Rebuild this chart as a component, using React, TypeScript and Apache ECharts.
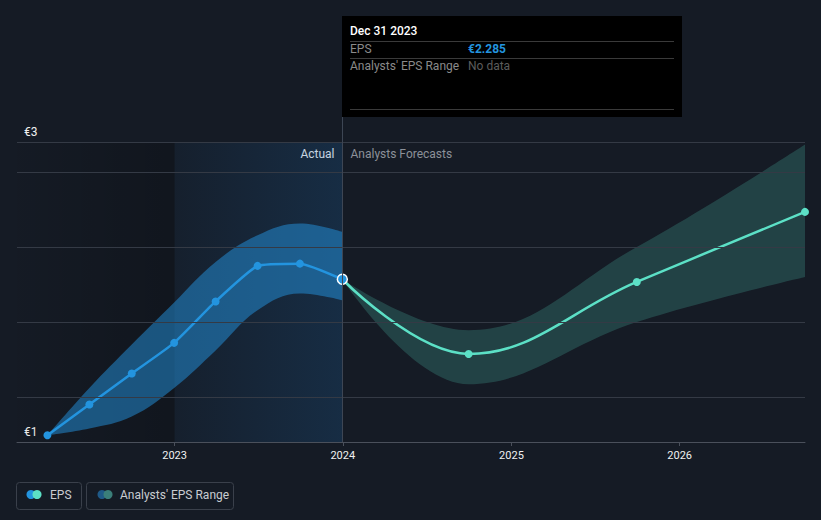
import React, { useEffect, useRef } from "react";
import * as echarts from "echarts";

// ---- data ----
const actualDates = ["2022-03-31", "2022-06-30", "2022-09-30", "2022-12-31", "2023-03-31", "2023-06-30", "2023-09-30", "2023-12-31"];
const actualEps = [1.245, 1.45, 1.657, 1.861, 2.137, 2.374, 2.389, 2.285];
const actualUpper = [1.245, 1.56, 1.85, 2.13, 2.4, 2.578, 2.656, 2.6];
const actualLower = [1.245, 1.29, 1.37, 1.56, 1.81, 2.078, 2.19, 2.145];

const forecastDates = ["2023-12-31", "2024-09-30", "2025-09-30", "2026-09-30"];
const forecastEps = [2.285, 1.787, 2.267, 2.734];
const forecastUpper = [2.285, 1.945, 2.5, 3.183];
const forecastLower = [2.285, 1.585, 2.0, 2.3];

const gridValues = [1.5, 2, 2.5, 3, 3.2];
const axisMin = "2022-01-24";
const axisMax = "2026-09-30";
const pastYearStart = "2023-01-01";
const currentDate = "2023-12-31";

const tooltipTitle = "Dec 31 2023";
const tooltipEps = "€2.285";

const BG = "#151b25";
const BLUE = "#2394df";
const TEAL = "#5ce0c6";

const ts = (s: string) => {
  const [y, m, d] = s.split("-").map(Number);
  return Date.UTC(y, m - 1, d);
};

const pairs = (dates: string[], vals: number[]) => dates.map((d, i) => [ts(d), vals[i]]);

export default function App() {
  const ref = useRef<HTMLDivElement>(null);
  useEffect(() => {
    if (!ref.current) return;
    const chart = echarts.init(ref.current, null, { renderer: "svg" });
    const font = "Roboto, 'Noto Sans', sans-serif";

    const option: any = {
      animation: false,
      useUTC: true,
      backgroundColor: BG,
      textStyle: { fontFamily: font },
      grid: { left: 17, right: 16, top: 142, bottom: 78, containLabel: false },
      xAxis: {
        type: "time",
        min: ts(axisMin),
        max: ts(axisMax),
        minInterval: 365 * 24 * 3600 * 1000,
        splitNumber: 4,
        axisLine: { show: true, lineStyle: { color: "#4a505b", width: 1 } },
        axisTick: { show: true, length: 4, lineStyle: { color: "#4a505b" } },
        axisLabel: {
          color: "#f0f0f0",
          fontSize: 11,
          margin: 8,
          fontFamily: font,
          formatter: (v: number) => String(new Date(v).getUTCFullYear()),
        },
        splitLine: { show: false },
      },
      yAxis: {
        type: "value",
        min: 1.2,
        max: 3.2,
        interval: 2,
        axisLine: { show: false },
        axisTick: { show: false },
        splitLine: { show: false },
        axisLabel: {
          inside: true,
          margin: 7,
          color: "#f0f0f0",
          fontSize: 12,
          fontFamily: font,
          verticalAlign: "bottom",
          padding: [0, 0, 4, 0],
          formatter: (v: number) => "€" + Math.round(v),
        },
      },
      series: [
        {
          type: "line",
          name: "bg",
          data: [],
          silent: true,
          markArea: {
            silent: true,
            data: [
              [
                {
                  xAxis: ts(axisMin),
                  itemStyle: {
                    color: {
                      type: "linear", x: 0, y: 0, x2: 1, y2: 0,
                      colorStops: [
                        { offset: 0, color: "rgba(0,0,0,0.02)" },
                        { offset: 1, color: "rgba(0,0,0,0.2)" },
                      ],
                    },
                  },
                },
                { xAxis: ts(pastYearStart) },
              ],
              [
                {
                  xAxis: ts(pastYearStart),
                  itemStyle: {
                    color: {
                      type: "linear", x: 0, y: 0, x2: 1, y2: 0,
                      colorStops: [
                        { offset: 0, color: "rgba(30,120,200,0.05)" },
                        { offset: 1, color: "rgba(30,120,200,0.19)" },
                      ],
                    },
                  },
                },
                { xAxis: ts(currentDate) },
              ],
            ],
          },
          markLine: {
            silent: true,
            symbol: "none",
            label: { show: false },
            lineStyle: { color: "#343a45", width: 1, type: "solid" },
            data: gridValues.map((v) => ({ yAxis: v })),
          },
        },
        {
          type: "line",
          name: "actualLower",
          stack: "actualBand",
          smooth: 0.4,
          symbol: "none",
          silent: true,
          lineStyle: { opacity: 0 },
          data: pairs(actualDates, actualLower),
        },
        {
          type: "line",
          name: "actualBand",
          stack: "actualBand",
          smooth: 0.4,
          symbol: "none",
          silent: true,
          lineStyle: { opacity: 0 },
          areaStyle: { color: "rgba(35,148,223,0.5)", opacity: 1 },
          data: pairs(actualDates, actualUpper.map((u, i) => u - actualLower[i])),
        },
        {
          type: "line",
          name: "forecastLower",
          stack: "forecastBand",
          smooth: 0.4,
          symbol: "none",
          silent: true,
          lineStyle: { opacity: 0 },
          data: pairs(forecastDates, forecastLower),
        },
        {
          type: "line",
          name: "forecastBand",
          stack: "forecastBand",
          smooth: 0.4,
          symbol: "none",
          silent: true,
          lineStyle: { opacity: 0 },
          areaStyle: { color: "rgba(92,224,198,0.2)", opacity: 1 },
          data: pairs(forecastDates, forecastUpper.map((u, i) => u - forecastLower[i])),
        },
        {
          type: "line",
          name: "EPS forecast",
          smooth: 0.4,
          symbol: "circle",
          symbolSize: 8,
          lineStyle: { color: TEAL, width: 2.5 },
          itemStyle: { color: TEAL },
          data: pairs(forecastDates, forecastEps).map((p, i) =>
            i === 0 ? { value: p, symbol: "none" } : { value: p }
          ),
        },
        {
          type: "line",
          name: "EPS",
          smooth: 0.15,
          symbol: "circle",
          symbolSize: 8,
          lineStyle: { color: BLUE, width: 2.5 },
          itemStyle: { color: BLUE },
          data: pairs(actualDates, actualEps).map((p, i) =>
            i === actualDates.length - 1
              ? { value: p, symbolSize: 10, itemStyle: { color: BLUE, borderColor: "#ffffff", borderWidth: 1.5 } }
              : { value: p }
          ),
        },
      ],
    };
    chart.setOption(option);

    const cx = chart.convertToPixel({ gridIndex: 0 } as any, [ts(currentDate), 2]) as number[];
    const lineX = Math.round(cx[0]) + 0.5;

    const graphic: any[] = [
      // vertical "now" line
      {
        type: "line",
        silent: true,
        shape: { x1: lineX, y1: 117, x2: lineX, y2: 442 },
        style: { stroke: "#3d4654", lineWidth: 1 },
        z: 5,
      },
      { type: "text", x: lineX - 8, y: 154, style: { text: "Actual", fill: "#e6e6e6", font: `12px ${font}`, textAlign: "right", textVerticalAlign: "middle" } },
      { type: "text", x: lineX + 8, y: 154, style: { text: "Analysts Forecasts", fill: "#8c9199", font: `12px ${font}`, textAlign: "left", textVerticalAlign: "middle" } },
      // tooltip box
      {
        type: "group",
        x: lineX - 0.5,
        y: 16,
        children: [
          { type: "rect", shape: { x: 0, y: 0, width: 340, height: 101 }, style: { fill: "#000000" } },
          { type: "text", x: 8, y: 15, style: { text: tooltipTitle, fill: "#ffffff", font: `500 12px ${font}`, textVerticalAlign: "middle" } },
          { type: "line", shape: { x1: 8, y1: 25.5, x2: 332, y2: 25.5 }, style: { stroke: "#3a3a3a", lineWidth: 1 } },
          { type: "text", x: 8, y: 33, style: { text: "EPS", fill: "#8a8a8a", font: `12px ${font}`, textVerticalAlign: "middle" } },
          { type: "text", x: 126, y: 33, style: { text: tooltipEps, fill: BLUE, font: `bold 12px ${font}`, textVerticalAlign: "middle" } },
          { type: "line", shape: { x1: 8, y1: 42.5, x2: 332, y2: 42.5 }, style: { stroke: "#3a3a3a", lineWidth: 1 } },
          { type: "text", x: 8, y: 50, style: { text: "Analysts' EPS Range", fill: "#8a8a8a", font: `12px ${font}`, textVerticalAlign: "middle" } },
          { type: "text", x: 126, y: 50, style: { text: "No data", fill: "#5c5c5c", font: `12px ${font}`, textVerticalAlign: "middle" } },
          { type: "line", shape: { x1: 8, y1: 93.5, x2: 332, y2: 93.5 }, style: { stroke: "#3a3a3a", lineWidth: 1 } },
        ],
      },
      // legend
      { type: "rect", shape: { x: 16.5, y: 482.5, width: 65, height: 27, r: 3 }, style: { fill: "none", stroke: "#3a404b", lineWidth: 1 } },
      { type: "circle", shape: { cx: 31, cy: 494.5, r: 4.5 }, style: { fill: BLUE } },
      { type: "circle", shape: { cx: 37, cy: 494.5, r: 4.5 }, style: { fill: TEAL } },
      { type: "text", x: 50, y: 495, style: { text: "EPS", fill: "#c9ccd1", font: `12px ${font}`, textVerticalAlign: "middle" } },
      { type: "rect", shape: { x: 86.5, y: 482.5, width: 147, height: 27, r: 3 }, style: { fill: "none", stroke: "#3a404b", lineWidth: 1 } },
      { type: "circle", shape: { cx: 102, cy: 494.5, r: 4.5 }, style: { fill: "#1f5a88" } },
      { type: "circle", shape: { cx: 108, cy: 494.5, r: 4.5 }, style: { fill: "#3b7f7a" } },
      { type: "text", x: 120, y: 495, style: { text: "Analysts' EPS Range", fill: "#c9ccd1", font: `12px ${font}`, textVerticalAlign: "middle" } },
    ];
    chart.setOption({ graphic });

    return () => chart.dispose();
  }, []);

  return (
    <div
      ref={ref}
      style={{ position: "absolute", left: 0, top: 0, width: 821, height: 520 }}
    />
  );
}
